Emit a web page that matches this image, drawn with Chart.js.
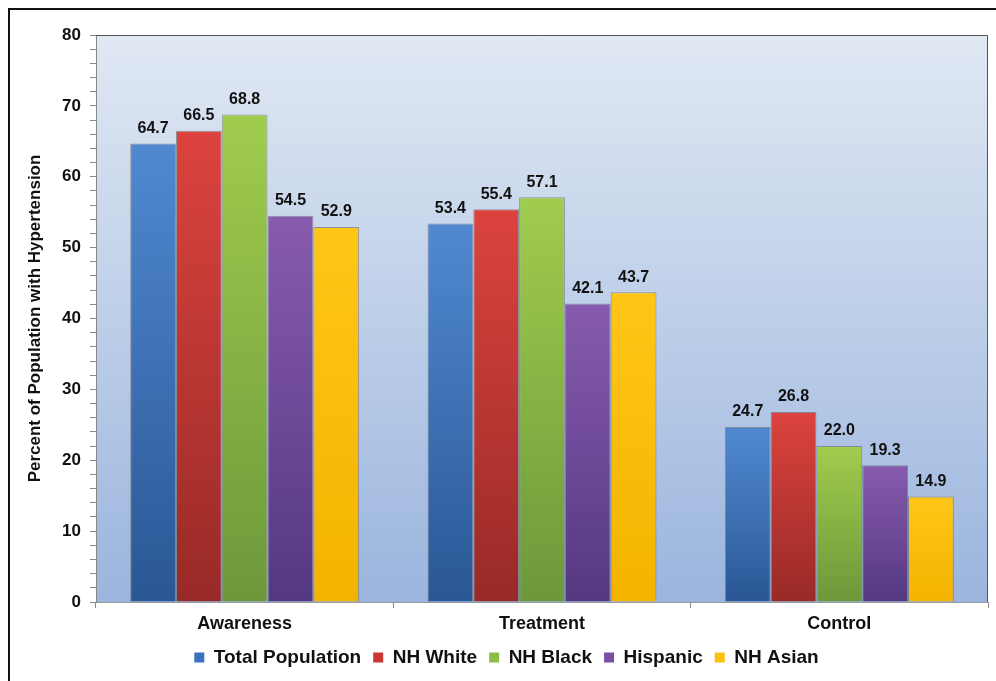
<!DOCTYPE html>
<html>
<head>
<meta charset="utf-8">
<script src="https://cdn.jsdelivr.net/npm/chart.js@4.4.0/dist/chart.umd.min.js"></script>
<style>
  html, body { margin: 0; padding: 0; background: #fff; }
  #wrap { width: 996px; height: 681px; position: relative; }
</style>
</head>
<body>
<div id="wrap"><canvas id="myChart"></canvas></div>
<script>
var categories = ['Awareness', 'Treatment', 'Control'];
var seriesNames = ['Total Population', 'NH White', 'NH Black', 'Hispanic', 'NH Asian'];
var totalPop = [64.7, 53.4, 24.7];
var nhWhite = [66.5, 55.4, 26.8];
var nhBlack = [68.8, 57.1, 22.0];
var hispanic = [54.5, 42.1, 19.3];
var nhAsian = [52.9, 43.7, 14.9];
var yTicks = [0, 10, 20, 30, 40, 50, 60, 70, 80];

var topColors = ['#5089d0', '#dc433e', '#a0cc4e', '#875bae', '#ffc617'];
var bottomColors = ['#2a5795', '#982a27', '#6c983b', '#553880', '#f4b300'];
var solidColors = ['#3b72be', '#c93734', '#8cbd47', '#7a4fa1', '#fdc00d'];

var FONT = "'Liberation Sans', Arial, sans-serif";

function barGradient(i) {
	return function(ctx) {
		var chart = ctx.chart;
		var area = chart.chartArea;
		if (!area || ctx.raw === undefined) return solidColors[i];
		var top = chart.scales.y.getPixelForValue(ctx.raw);
		var g = chart.ctx.createLinearGradient(0, top, 0, area.bottom);
		g.addColorStop(0, topColors[i]);
		g.addColorStop(1, bottomColors[i]);
		return g;
	};
}

var allSeries = [totalPop, nhWhite, nhBlack, hispanic, nhAsian];
var datasets = [];
for (var i = 0; i < allSeries.length; i++) {
	datasets.push({
		label: seriesNames[i],
		data: allSeries[i],
		backgroundColor: barGradient(i),
		borderColor: 'rgba(90,90,90,0.55)',
		borderWidth: 1,
		barPercentage: 1,
		categoryPercentage: 0.77
	});
}

var decor = {
	id: 'decor',
	beforeDraw: function(chart) {
		var c = chart.ctx, a = chart.chartArea;
		c.save();
		var g = c.createLinearGradient(0, a.top, 0, a.bottom);
		g.addColorStop(0, '#e0e8f3');
		g.addColorStop(1, '#9bb5de');
		c.fillStyle = g;
		c.fillRect(a.left, a.top, a.right - a.left, a.bottom - a.top);
		// outer frame
		c.strokeStyle = '#111';
		c.lineWidth = 2;
		c.beginPath();
		c.moveTo(9, chart.height);
		c.lineTo(9, 9);
		c.lineTo(chart.width, 9);
		c.stroke();
		c.restore();
	},
	afterDraw: function(chart) {
		var c = chart.ctx, a = chart.chartArea;
		c.save();
		c.strokeStyle = '#555';
		c.lineWidth = 1;
		c.beginPath();
		c.moveTo(a.left, a.top + 0.5);
		c.lineTo(a.right - 0.5, a.top + 0.5);
		c.lineTo(a.right - 0.5, a.bottom);
		c.stroke();
		// value labels
		c.fillStyle = '#111';
		c.font = 'bold 16px ' + FONT;
		c.textAlign = 'center';
		c.textBaseline = 'bottom';
		chart.data.datasets.forEach(function(ds, di) {
			chart.getDatasetMeta(di).data.forEach(function(bar, j) {
				c.fillText(ds.data[j].toFixed(1), bar.x, bar.y - 7);
			});
		});
		c.restore();
	}
};

new Chart('myChart', {
	type: 'bar',
	data: { labels: categories, datasets: datasets },
	options: {
		responsive: true,
		maintainAspectRatio: false,
		animation: false,
		layout: { padding: { left: 25, right: 8, top: 35, bottom: 4 } },
		scales: {
			x: {
				afterFit: function(s) { s.height = 34; },
				grid: { offset: true, drawOnChartArea: false, tickLength: 6, color: '#888' },
				border: { color: '#999', width: 1 },
				ticks: { color: '#111', font: { family: FONT, size: 18, weight: 'bold' }, padding: 5 }
			},
			y: {
				min: 0,
				max: 80,
				afterFit: function(s) { s.width = 71; },
				afterBuildTicks: function(s) {
					var t = [];
					for (var v = 0; v <= 80; v += 2) t.push({ value: v });
					s.ticks = t;
				},
				grid: { drawOnChartArea: false, tickLength: 6, color: '#888' },
				border: { color: '#888', width: 1 },
				ticks: {
					autoSkip: false,
					color: '#111',
					padding: 9,
					font: { family: FONT, size: 17, weight: 'bold' },
					callback: function(v) { return yTicks.indexOf(v) >= 0 ? v : ''; }
				},
				title: {
					display: true,
					text: 'Percent of Population with Hypertension',
					color: '#111',
					font: { family: FONT, size: 17, weight: 'bold' },
					padding: { top: 0, bottom: 4 }
				}
			}
		},
		plugins: {
			tooltip: { enabled: false },
			legend: {
				position: 'bottom',
				labels: {
					color: '#111',
					font: { family: FONT, size: 19, weight: 'bold' },
					boxWidth: 10,
					boxHeight: 10,
					padding: 12,
					generateLabels: function(chart) {
						return seriesNames.map(function(n, k) {
							return { text: n, fillStyle: solidColors[k], strokeStyle: solidColors[k], lineWidth: 0, datasetIndex: k, fontColor: '#111' };
						});
					}
				}
			}
		}
	},
	plugins: [decor]
});
</script>
</body>
</html>
